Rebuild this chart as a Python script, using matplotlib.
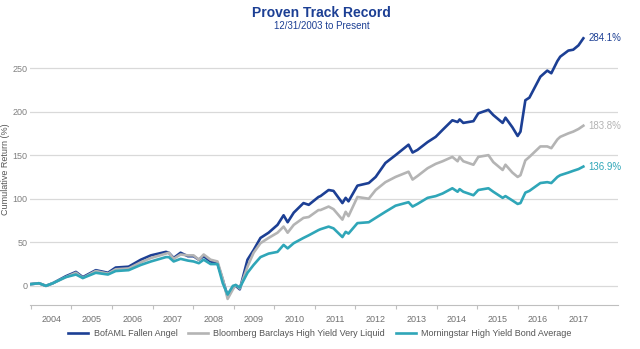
import matplotlib.pyplot as plt

plt.rcParams['font.family'] = ['Liberation Sans', 'DejaVu Sans']

# time axis in decimal years (12/31/2003 = 2004.0)
t = [2004.00, 2004.20, 2004.37, 2004.54, 2004.86, 2005.11, 2005.28, 2005.60, 2005.90,
     2006.09, 2006.41, 2006.71, 2006.96, 2007.33, 2007.40, 2007.52, 2007.69, 2007.87,
     2008.01, 2008.14, 2008.26, 2008.43, 2008.60, 2008.73, 2008.85, 2008.98, 2009.05,
     2009.15, 2009.34, 2009.49, 2009.66, 2009.86, 2010.08, 2010.23, 2010.33, 2010.48,
     2010.72, 2010.85, 2011.09, 2011.14, 2011.34, 2011.46, 2011.68, 2011.76, 2011.83,
     2012.05, 2012.33, 2012.50, 2012.74, 2012.99, 2013.31, 2013.41, 2013.53, 2013.78,
     2013.98, 2014.15, 2014.39, 2014.52, 2014.57, 2014.66, 2014.91, 2015.03, 2015.28,
     2015.40, 2015.63, 2015.70, 2015.87, 2016.00, 2016.07, 2016.19, 2016.29, 2016.56,
     2016.73, 2016.83, 2016.98, 2017.05, 2017.25, 2017.37, 2017.50, 2017.62]

fallen_angel = [2, 3, 0, 3, 11, 16, 10, 18, 15,
                21, 22, 30, 35, 39, 38, 32, 38, 34,
                34, 30, 34, 28, 26, 7, -12, -2, 0,
                -4, 30, 41, 55, 61, 70, 81, 73, 84,
                95, 93, 102, 103, 110, 109, 95, 101, 97,
                115, 118, 125, 141, 150, 162, 153, 156, 165,
                171, 179, 190, 188, 191, 187, 189, 198, 202,
                196, 187, 193, 182, 172, 177, 213, 216, 240,
                247, 244, 258, 263, 270, 271, 276, 284.1]

very_liquid = [2, 3, 0, 3, 10, 15, 9, 17, 14,
               19, 20, 27, 32, 37, 38, 31, 36, 35,
               35, 30, 36, 30, 28, 8, -15, -4, 1,
               -3, 22, 38, 49, 55, 61, 68, 61, 70,
               78, 79, 87, 87, 91, 88, 76, 85, 80,
               102, 100, 110, 119, 125, 131, 122, 126, 135,
               140, 143, 148, 143, 148, 143, 139, 148, 150,
               142, 133, 139, 130, 125, 127, 144, 148, 160,
               160, 158, 168, 171, 175, 177, 180, 183.8]

morningstar = [2, 3, 0, 3, 10, 13, 9, 15, 13,
               17, 18, 24, 28, 33, 33, 28, 31, 29,
               28, 26, 30, 25, 25, 3, -10, 0, 1,
               -2, 15, 24, 33, 37, 39, 47, 43, 49,
               55, 58, 64, 65, 68, 66, 56, 62, 60,
               72, 73, 78, 85, 92, 96, 91, 94, 101,
               103, 106, 112, 108, 111, 108, 104, 110, 112,
               108, 101, 103, 98, 94, 95, 107, 109, 118,
               119, 118, 125, 127, 130, 132, 134, 136.9]

series = ['BofAML Fallen Angel', 'Bloomberg Barclays High Yield Very Liquid',
          'Morningstar High Yield Bond Average']
colors = ['#1c3f94', '#b4b4b4', '#2fa6b8']
years = list(range(2004, 2018))

fig = plt.figure(figsize=(6.4, 3.49), dpi=100)
ax = fig.add_axes([0.047, 0.126, 0.919, 0.779])

for vals, name, col in zip([fallen_angel, very_liquid, morningstar], series, colors):
    ax.plot(t, vals, color=col, lw=1.9, label=name, solid_joinstyle='round')
    ax.text(t[-1] + 0.12, vals[-1], f'{vals[-1]:.1f}%', color=col, fontsize=7,
            va='center', ha='left')

ax.set_xlim(2003.98, 2018.48)
ax.set_ylim(-22, 290)
ax.set_yticks([0, 50, 100, 150, 200, 250])
ax.grid(axis='y', color='#d9d9d9', lw=0.9)
ax.set_axisbelow(True)

# year ticks at boundaries, labels centred in each year
ax.set_xticks(years, minor=False)
ax.set_xticklabels([])
ax.set_xticks([y + 0.5 for y in years], minor=True)
ax.set_xticklabels([str(y) for y in years], minor=True)
ax.tick_params(axis='x', which='major', length=3, color='#bfbfbf', width=0.8)
ax.tick_params(axis='x', which='minor', length=0, labelsize=6.5, colors='#707070', pad=7)
ax.tick_params(axis='y', length=0, labelsize=6.5, colors='#808080', pad=2)

for s in ['top', 'right', 'left']:
    ax.spines[s].set_visible(False)
ax.spines['bottom'].set_color('#bfbfbf')
ax.spines['bottom'].set_linewidth(0.8)

ax.set_ylabel('Cumulative Return (%)', fontsize=6.5, color='#555555')
ax.yaxis.set_label_coords(-0.034, 0.5)

fig.text(0.503, 0.963, 'Proven Track Record', ha='center', va='center',
         fontsize=10, fontweight='bold', color='#1c3f94')
fig.text(0.503, 0.925, '12/31/2003 to Present', ha='center', va='center',
         fontsize=7, color='#1c3f94')

fig.legend(loc='center', bbox_to_anchor=(0.5, 0.045), ncol=3, frameon=False,
           fontsize=6.5, handlelength=2.2, columnspacing=1.2, handletextpad=0.6,
           labelcolor='#555555')

fig.savefig('out.png', dpi=100)
